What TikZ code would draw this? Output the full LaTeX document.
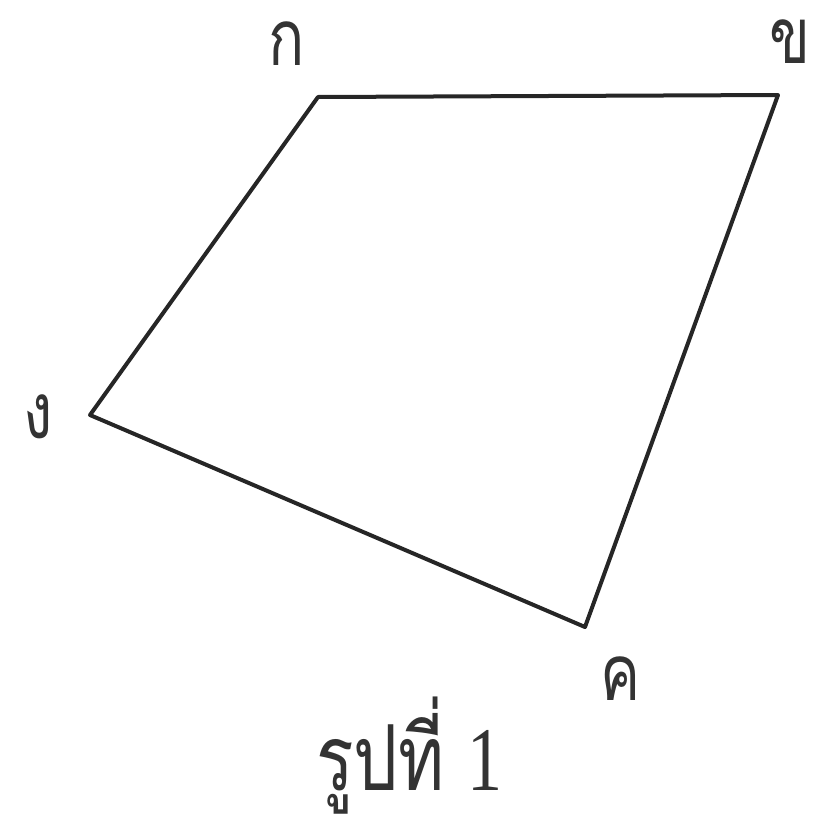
\documentclass[tikz,border=0pt]{standalone}
\usepackage{fontspec}
\usepackage{graphicx}
\newfontfamily\thaifont[Script=Thai]{Loma}
\newfontfamily\serifnum{Liberation Serif}
\newcommand{\tallthai}[1]{\scalebox{1}[1.3]{#1}}
\begin{document}
\begin{tikzpicture}[x=1pt,y=-1pt,
  edge/.style={line width=4pt,line join=round,line cap=round,black!85},
  vlabel/.style={font=\thaifont\fontsize{60}{60}\selectfont,inner sep=0pt,black!80,anchor=base}]
\useasboundingbox (0,0) rectangle (815,830);
\coordinate (A) at (318,97);
\coordinate (B) at (778,95);
\coordinate (C) at (585,627);
\coordinate (D) at (90,415);
\draw[edge] (A) -- (B) -- (C) -- (D) -- cycle;
\node[vlabel] (la) at (287,65) {\tallthai{ก}};
\node[vlabel] (lb) at (790,63) {\tallthai{ข}};
\node[vlabel] (lc) at (621,700) {\tallthai{ค}};
\node[vlabel] (ld) at (38,438) {\tallthai{ง}};
\node[font=\thaifont\fontsize{70}{70}\selectfont,inner sep=0pt,black!80,anchor=base west] (cap) at (316,790) {\tallthai{รูปที่ {\serifnum 1}}};
\end{tikzpicture}
\end{document}
